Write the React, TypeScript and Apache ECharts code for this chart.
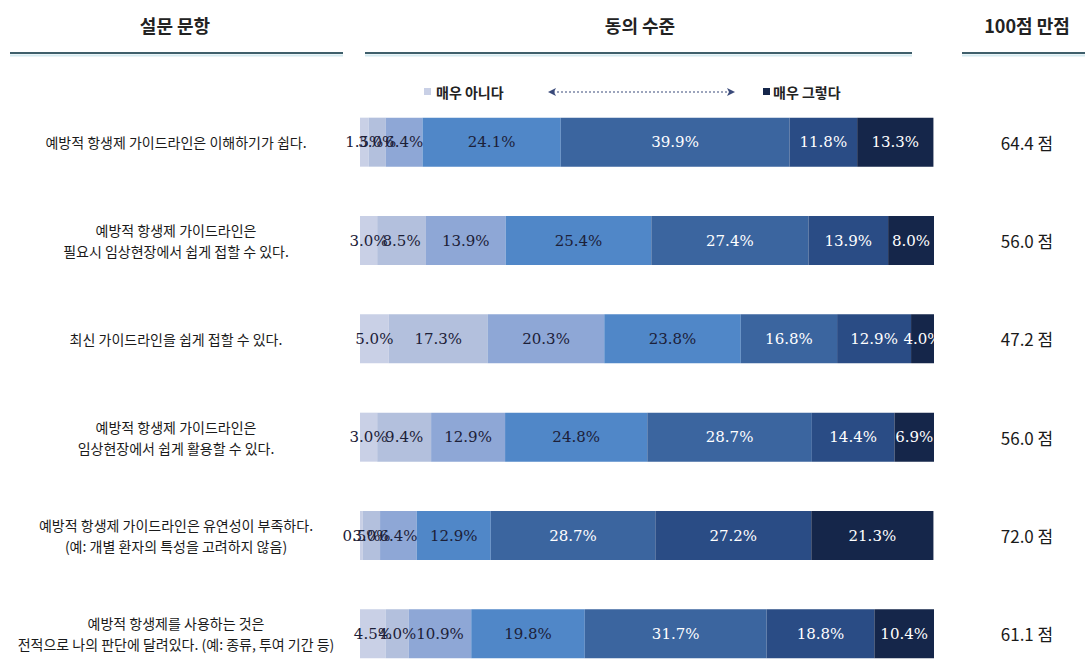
import React, { useEffect, useRef } from "react";
import * as echarts from "echarts";

const categories = [
  "예방적 항생제 가이드라인은 이해하기가 쉽다.",
  "예방적 항생제 가이드라인은\n필요시 임상현장에서 쉽게 접할 수 있다.",
  "최신 가이드라인을 쉽게 접할 수 있다.",
  "예방적 항생제 가이드라인은\n임상현장에서 쉽게 활용할 수 있다.",
  "예방적 항생제 가이드라인은 유연성이 부족하다.\n(예: 개별 환자의 특성을 고려하지 않음)",
  "예방적 항생제를 사용하는 것은\n전적으로 나의 판단에 달려있다. (예: 종류, 투여 기간 등)",
];

// agreement levels, 1 = 매우 아니다 ... 7 = 매우 그렇다
const level1 = [1.5, 3.0, 5.0, 3.0, 0.5, 4.5];
const level2 = [3.0, 8.5, 17.3, 9.4, 3.0, 4.0];
const level3 = [6.4, 13.9, 20.3, 12.9, 6.4, 10.9];
const level4 = [24.1, 25.4, 23.8, 24.8, 12.9, 19.8];
const level5 = [39.9, 27.4, 16.8, 28.7, 28.7, 31.7];
const level6 = [11.8, 13.9, 12.9, 14.4, 27.2, 18.8];
const level7 = [13.3, 8.0, 4.0, 6.9, 21.3, 10.4];

const scores = [64.4, 56.0, 47.2, 56.0, 72.0, 61.1];

const levels = [level1, level2, level3, level4, level5, level6, level7];
const levelColors = ["#c9d0e6", "#b3c0dd", "#8ea7d6", "#5087c8", "#3b659f", "#2a4c85", "#15264a"];
const labelColors = ["#1c2038", "#1c2038", "#1c2038", "#1c2038", "#ffffff", "#ffffff", "#ffffff"];

const KR = "'Noto Sans CJK KR', 'Noto Sans', sans-serif";

export default function App() {
  const ref = useRef<HTMLDivElement>(null);

  useEffect(() => {
    if (!ref.current) return;
    const chart = echarts.init(ref.current, null, { renderer: "svg" });

    const lineColor = "#3f5f6b";
    const shadowColor = "#d4eaf0";
    const headerLines = [
      [10, 343],
      [365, 912],
      [962, 1085],
    ];
    const graphics: any[] = [];
    headerLines.forEach(([a, b]) => {
      graphics.push({
        type: "line",
        shape: { x1: a, y1: 55.5, x2: b, y2: 55.5 },
        style: { stroke: shadowColor, lineWidth: 2 },
        silent: true,
      });
      graphics.push({
        type: "line",
        shape: { x1: a, y1: 53, x2: b, y2: 53 },
        style: { stroke: lineColor, lineWidth: 2 },
        silent: true,
      });
    });
    const headers: [string, number][] = [
      ["설문 문항", 175],
      ["동의 수준", 640],
      ["100점 만점", 1027],
    ];
    headers.forEach(([t, x]) => {
      graphics.push({
        type: "text",
        x,
        y: 25,
        style: {
          text: t,
          fontSize: 18,
          fontWeight: "bold",
          fontFamily: KR,
          fill: "#222222",
          align: "center",
          verticalAlign: "middle",
        },
      });
    });
    // legend
    graphics.push({
      type: "rect",
      shape: { x: 424, y: 88, width: 7, height: 7 },
      style: { fill: levelColors[0] },
    });
    graphics.push({
      type: "text",
      x: 436,
      y: 92,
      style: {
        text: "매우 아니다",
        fontSize: 14,
        fontWeight: "bold",
        fontFamily: KR,
        fill: "#222222",
        align: "left",
        verticalAlign: "middle",
      },
    });
    graphics.push({
      type: "rect",
      shape: { x: 763, y: 88, width: 7, height: 7 },
      style: { fill: levelColors[6] },
    });
    graphics.push({
      type: "text",
      x: 773,
      y: 92,
      style: {
        text: "매우 그렇다",
        fontSize: 14,
        fontWeight: "bold",
        fontFamily: KR,
        fill: "#222222",
        align: "left",
        verticalAlign: "middle",
      },
    });
    graphics.push({
      type: "line",
      shape: { x1: 553, y1: 92, x2: 729, y2: 92 },
      style: { stroke: "#3a4a7a", lineWidth: 1.2, lineDash: [2, 2] },
    });
    graphics.push({
      type: "polygon",
      shape: { points: [[548, 92], [556, 88], [554, 92], [556, 96]] },
      style: { fill: "#3a4a7a" },
    });
    graphics.push({
      type: "polygon",
      shape: { points: [[735, 92], [727, 88], [729, 92], [727, 96]] },
      style: { fill: "#3a4a7a" },
    });

    const series = levels.map((arr, i) => ({
      type: "bar",
      name: `level${i + 1}`,
      stack: "total",
      barWidth: 49,
      data: arr,
      itemStyle: { color: levelColors[i] },
      label: {
        show: true,
        position: "inside",
        formatter: (p: any) => `${Number(p.value).toFixed(1)}%`,
        color: labelColors[i],
        fontSize: 15,
        fontFamily: "'DejaVu Serif', serif",
      },
      emphasis: { disabled: true },
    }));

    chart.setOption({
      animation: false,
      grid: { left: 360, right: 151, top: 93, height: 590 },
      xAxis: { type: "value", min: 0, max: 100.1, show: false },
      yAxis: [
        {
          type: "category",
          data: categories,
          inverse: true,
          axisLine: { show: false },
          axisTick: { show: false },
          splitLine: { show: false },
          axisLabel: {
            align: "center",
            margin: 184,
            fontSize: 14,
            lineHeight: 21,
            color: "#1a1a1a",
            fontFamily: KR,
          },
        },
        {
          type: "category",
          position: "right",
          data: scores.map((s) => `${s.toFixed(1)} 점`),
          inverse: true,
          axisLine: { show: false },
          axisTick: { show: false },
          splitLine: { show: false },
          axisLabel: {
            align: "center",
            margin: 93,
            fontSize: 17,
            color: "#1a1a1a",
            fontFamily: KR,
          },
        },
      ],
      series,
      graphic: graphics,
    });

    return () => chart.dispose();
  }, []);

  return (
    <div
      ref={ref}
      style={{ position: "fixed", left: 0, top: 0, width: 1085, height: 700, background: "#ffffff" }}
    />
  );
}
